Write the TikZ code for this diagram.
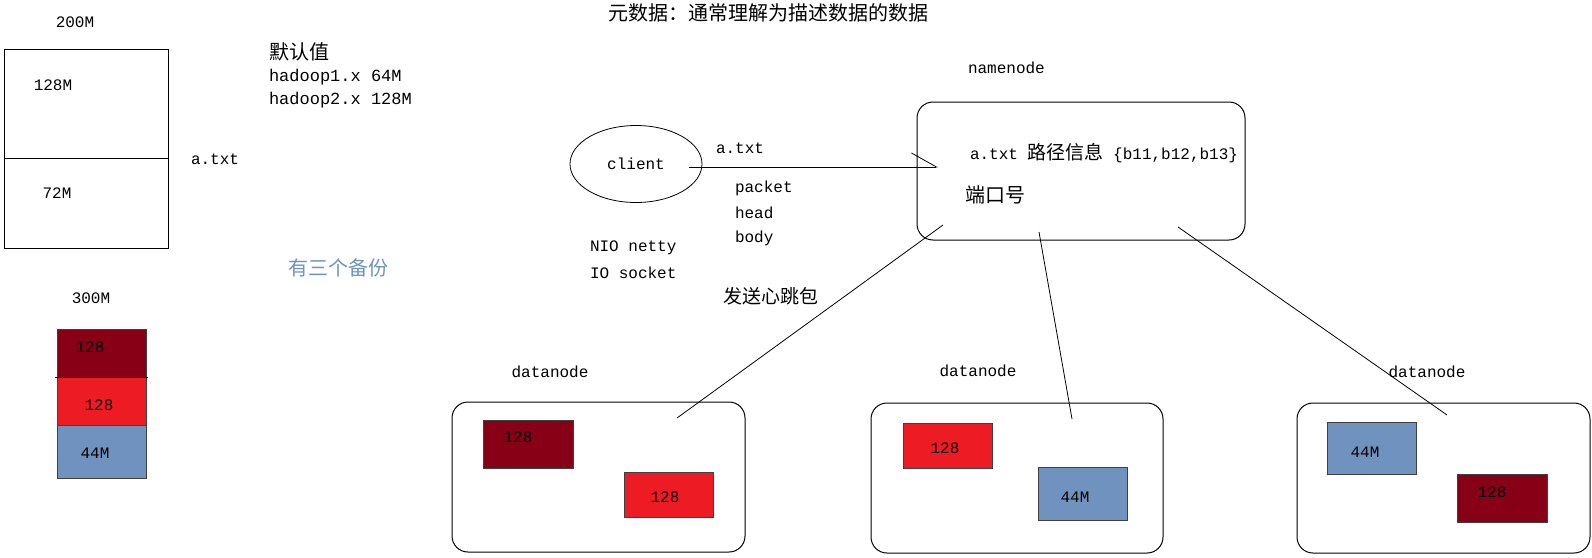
\documentclass[tikz,border=0pt]{standalone}
\usepackage{fontspec}
\setmonofont{Liberation Mono}
\newfontfamily\cjk{Noto Sans CJK SC}
\usetikzlibrary{arrows.meta,shapes.geometric}
\definecolor{dred}{RGB}{136,0,21}
\definecolor{bred}{RGB}{237,28,36}
\definecolor{bblue}{RGB}{112,146,190}
\begin{document}
\begin{tikzpicture}[x=1pt,y=-1pt,
  every node/.style={inner sep=0pt, outer sep=0pt},
  mono/.style={font=\ttfamily\fontsize{16}{18}\selectfont},
  monob/.style={font=\ttfamily\fontsize{17}{20}\selectfont},
  cjkt/.style={font=\cjk\fontsize{20}{24}\selectfont},
  box/.style={draw, line width=1pt},
  rbox/.style={draw, line width=1pt, rounded corners=16pt},
  blk/.style={draw=black!75, line width=0.8pt},
  conn/.style={line width=0.8pt}]
\useasboundingbox (0,0) rectangle (1592,557);

% left 200M file
\node[mono] (t200) at (75,22) {200M};
\node[box, minimum width=164pt, minimum height=199pt] (big) at (86,148.5) {};
\coordinate (divL) at (4,158);
\coordinate (divR) at (168,158);
\draw[conn] (divL) -- (divR);
\node[mono] (t128) at (53,85) {128M};
\node[mono] (t72) at (57,193) {72M};
\node[mono, anchor=west] (atxt) at (191,159) {a.txt};

% defaults
\node[cjkt, anchor=west] (def) at (269,52) {默认值};
\node[monob, anchor=west] (h1) at (269,77) {hadoop1.x 64M};
\node[monob, anchor=west] (h2) at (269,100) {hadoop2.x 128M};
\node[cjkt, anchor=west, text=bblue] (rep) at (288,268) {有三个备份};

% 300M stack
\node[mono] (t300) at (91,298) {300M};
\node[blk, fill=dred, minimum width=89pt, minimum height=48pt] (s1) at (101.5,353) {};
\node[blk, fill=bred, minimum width=89pt, minimum height=48pt] (s2) at (101.5,401) {};
\node[blk, fill=bblue, minimum width=89pt, minimum height=53pt] (s3) at (101.5,451.5) {};
\draw[conn] ([xshift=-2pt]s1.south west) -- ([xshift=2pt]s1.south east);
\node[mono] (s1t) at (90,347) {128};
\node[mono] (s2t) at (99,405) {128};
\node[mono] (s3t) at (95,453) {44M};

% title
\node[cjkt, anchor=west] (title) at (608,13) {元数据：通常理解为描述数据的数据};

% client
\node[draw, ellipse, line width=0.8pt, minimum width=132pt, minimum height=77pt, mono] (client) at (636,164) {client};
\coordinate (p0) at (689,167);
\coordinate (p1) at (938,167);
\draw[conn, -{Straight Barb[harpoon, length=25pt, width=28pt, line width=0.8pt]}] (p0) -- (p1);
\node[mono, anchor=west] (la) at (716,148) {a.txt};
\node[mono, anchor=west] (lp) at (735,188) {packet};
\node[mono, anchor=west] (lh) at (735,213) {head};
\node[mono, anchor=west] (lb) at (735,238) {body};
\node[mono, anchor=west] (nio) at (590,248) {NIO netty};
\node[mono, anchor=west] (io) at (590,273) {IO socket};
\node[cjkt, font=\cjk\fontsize{19}{22}\selectfont, anchor=west] (hb) at (723,296) {发送心跳包};

% namenode
\node[mono, anchor=west] (nnl) at (968,68) {namenode};
\node[rbox, minimum width=328pt, minimum height=138pt] (nn) at (1081,171) {};
\node[mono, anchor=west] (meta) at (970,153) {a.txt {\cjk\fontsize{19}{22}\selectfont 路径信息} \{b11,b12,b13\}};
\node[cjkt, anchor=west] (port) at (965,195) {端口号};

% datanodes
\node[mono] (d1l) at (550,372) {datanode};
\node[rbox, minimum width=293pt, minimum height=150pt] (dn1) at (598.5,477) {};
\node[mono] (d2l) at (978,371) {datanode};
\node[rbox, minimum width=292pt, minimum height=150pt] (dn2) at (1017,478) {};
\node[mono] (d3l) at (1427,372) {datanode};
\node[rbox, minimum width=293pt, minimum height=150pt] (dn3) at (1443.5,478) {};

% blocks in datanodes
\node[blk, fill=dred, minimum width=90pt, minimum height=48pt] (b11) at (528,444) {};
\node[mono] (b11t) at (518,437) {128};
\node[blk, fill=bred, minimum width=89pt, minimum height=45pt] (b12) at (668.5,494.5) {};
\node[mono] (b12t) at (665,497) {128};
\node[blk, fill=bred, minimum width=89pt, minimum height=45pt] (b21) at (947.5,445.5) {};
\node[mono] (b21t) at (945,448) {128};
\node[blk, fill=bblue, minimum width=89pt, minimum height=53pt] (b22) at (1082.5,493.5) {};
\node[mono] (b22t) at (1075,497) {44M};
\node[blk, fill=bblue, minimum width=89pt, minimum height=52pt] (b31) at (1371.5,448) {};
\node[mono] (b31t) at (1365,452) {44M};
\node[blk, fill=dred, minimum width=90pt, minimum height=48pt] (b32) at (1502,498) {};
\node[mono] (b32t) at (1492,492) {128};

% heartbeat lines
\coordinate (n1) at (943,225);
\coordinate (e1) at (677,418);
\coordinate (n2) at (1039,232);
\coordinate (e2) at (1072,419);
\coordinate (n3) at (1178,227);
\coordinate (e3) at (1447,415);
\draw[conn] (n1) -- (e1);
\draw[conn] (n2) -- (e2);
\draw[conn] (n3) -- (e3);
\end{tikzpicture}
\end{document}
